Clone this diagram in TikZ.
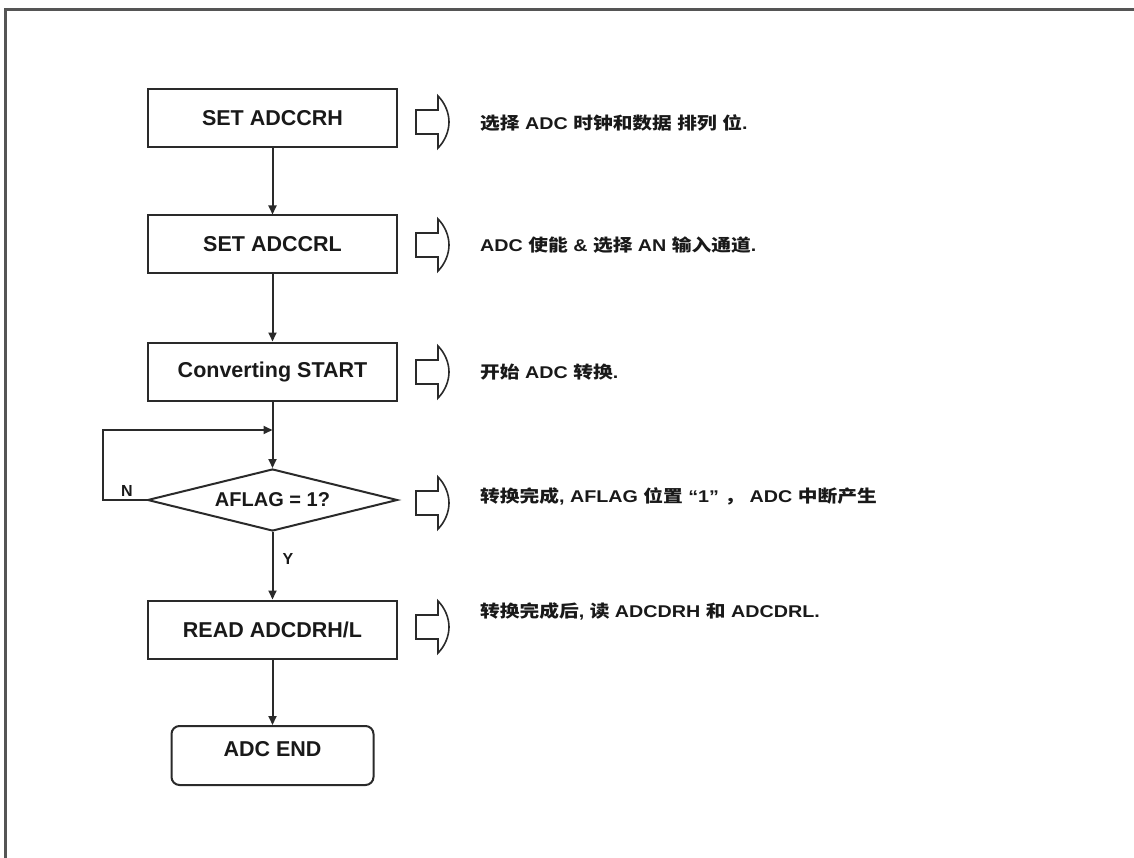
\documentclass[tikz,border=0pt]{standalone}
\usepackage{fontspec}
\setmainfont{Liberation Sans}
\newfontfamily\notefont{Liberation Sans}[FakeStretch=1.16]
\newfontfamily\cjkfont{Noto Sans CJK SC}[FakeStretch=1.16]
\usetikzlibrary{arrows.meta,shapes.geometric}

% Chinese runs inside the side notes
\newcommand\zh[1]{{\cjkfont #1}}

\definecolor{ink}{HTML}{2A2A2A}
\definecolor{framegray}{HTML}{555555}

\tikzset{
  stepbox/.style={draw=ink, line width=2pt, rectangle, minimum width=249pt,
    minimum height=58pt, inner sep=0pt, font=\fontsize{21.5}{24}\selectfont\bfseries, text=black!90},
  endbox/.style={stepbox, rounded corners=8pt, minimum width=202pt, minimum height=59pt,
    text height=16pt, text depth=14pt},
  decision/.style={draw=ink, line width=2pt, diamond, aspect=4, minimum width=250pt,
    minimum height=62pt, inner sep=0pt, font=\fontsize{20}{24}\selectfont\bfseries, text=black!90},
  flow/.style={draw=ink, line width=2pt, -{Triangle[length=9pt,width=8pt]}},
  note/.style={anchor=west, inner sep=0pt, text=black!90,
    font=\notefont\fontsize{17}{20}\selectfont\bfseries},
  branch/.style={inner sep=0pt, text=black!90, font=\fontsize{16}{18}\selectfont\bfseries},
  hollowline/.style={draw=ink, line width=1.6pt, line join=miter},
  hollow/.pic={
    \draw[hollowline] (0,-12) -- (22,-12) -- (22,-26)
      .. controls (29,-19) and (33,-9) .. (33,0)
      .. controls (33,9) and (29,19) .. (22,26)
      -- (22,12) -- (0,12) -- cycle;
  }
}

\begin{document}
\begin{tikzpicture}[x=1pt, y=-1pt]
  \useasboundingbox (0,0) rectangle (1134,858);

  % page frame (open on the right and at the bottom)
  \draw[framegray, line width=3pt] (1134,10) -- (5,10) -- (5,858);

  % flow chart
  \node[stepbox]  (crh)  at (272.5,118.5) {SET ADCCRH};
  \node[stepbox]  (crl)  at (272.5,244.5) {SET ADCCRL};
  \node[stepbox]  (conv) at (272.5,371.5) {Converting START};
  \node[decision] (flag) at (272.5,500)   {AFLAG = 1?};
  \node[stepbox]  (read) at (272.5,629.5) {READ ADCDRH/L};
  \node[endbox]   (fin)  at (272.5,755.5) {ADC END};

  \coordinate (join) at (272.5,430);
  \coordinate (loopl) at (103,500);

  \draw[flow] (crh) -- (crl);
  \draw[flow] (crl) -- (conv);
  \draw[flow] (conv) -- (flag);
  \draw[flow] (flag.west) -- (loopl) |- (join);
  \draw[flow] (flag) -- (read);
  \draw[flow] (read) -- (fin);

  \node[branch] (nlbl) at (127,491) {N};
  \node[branch] (ylbl) at (288,559) {Y};

  % hollow pointers to the side notes
  \pic at (416,122) {hollow};
  \pic at (416,245) {hollow};
  \pic at (416,372) {hollow};
  \pic at (416,503) {hollow};
  \pic at (416,627) {hollow};

  % side notes
  \node[note] (n1) at (480,123) {\zh{选择} ADC \zh{时钟和数据} \zh{排列} \zh{位}.};
  \node[note] (n2) at (480,245) {ADC \zh{使能} \& \zh{选择} AN \zh{输入通道}.};
  \node[note] (n3) at (480,372) {\zh{开始} ADC \zh{转换}.};
  \node[note] (n4) at (480,496) {\zh{转换完成}, AFLAG \zh{位置} “1” \zh{，}  ADC \zh{中断产生}};
  \node[note] (n5) at (480,611) {\zh{转换完成后}, \zh{读} ADCDRH \zh{和} ADCDRL.};
\end{tikzpicture}
\end{document}
